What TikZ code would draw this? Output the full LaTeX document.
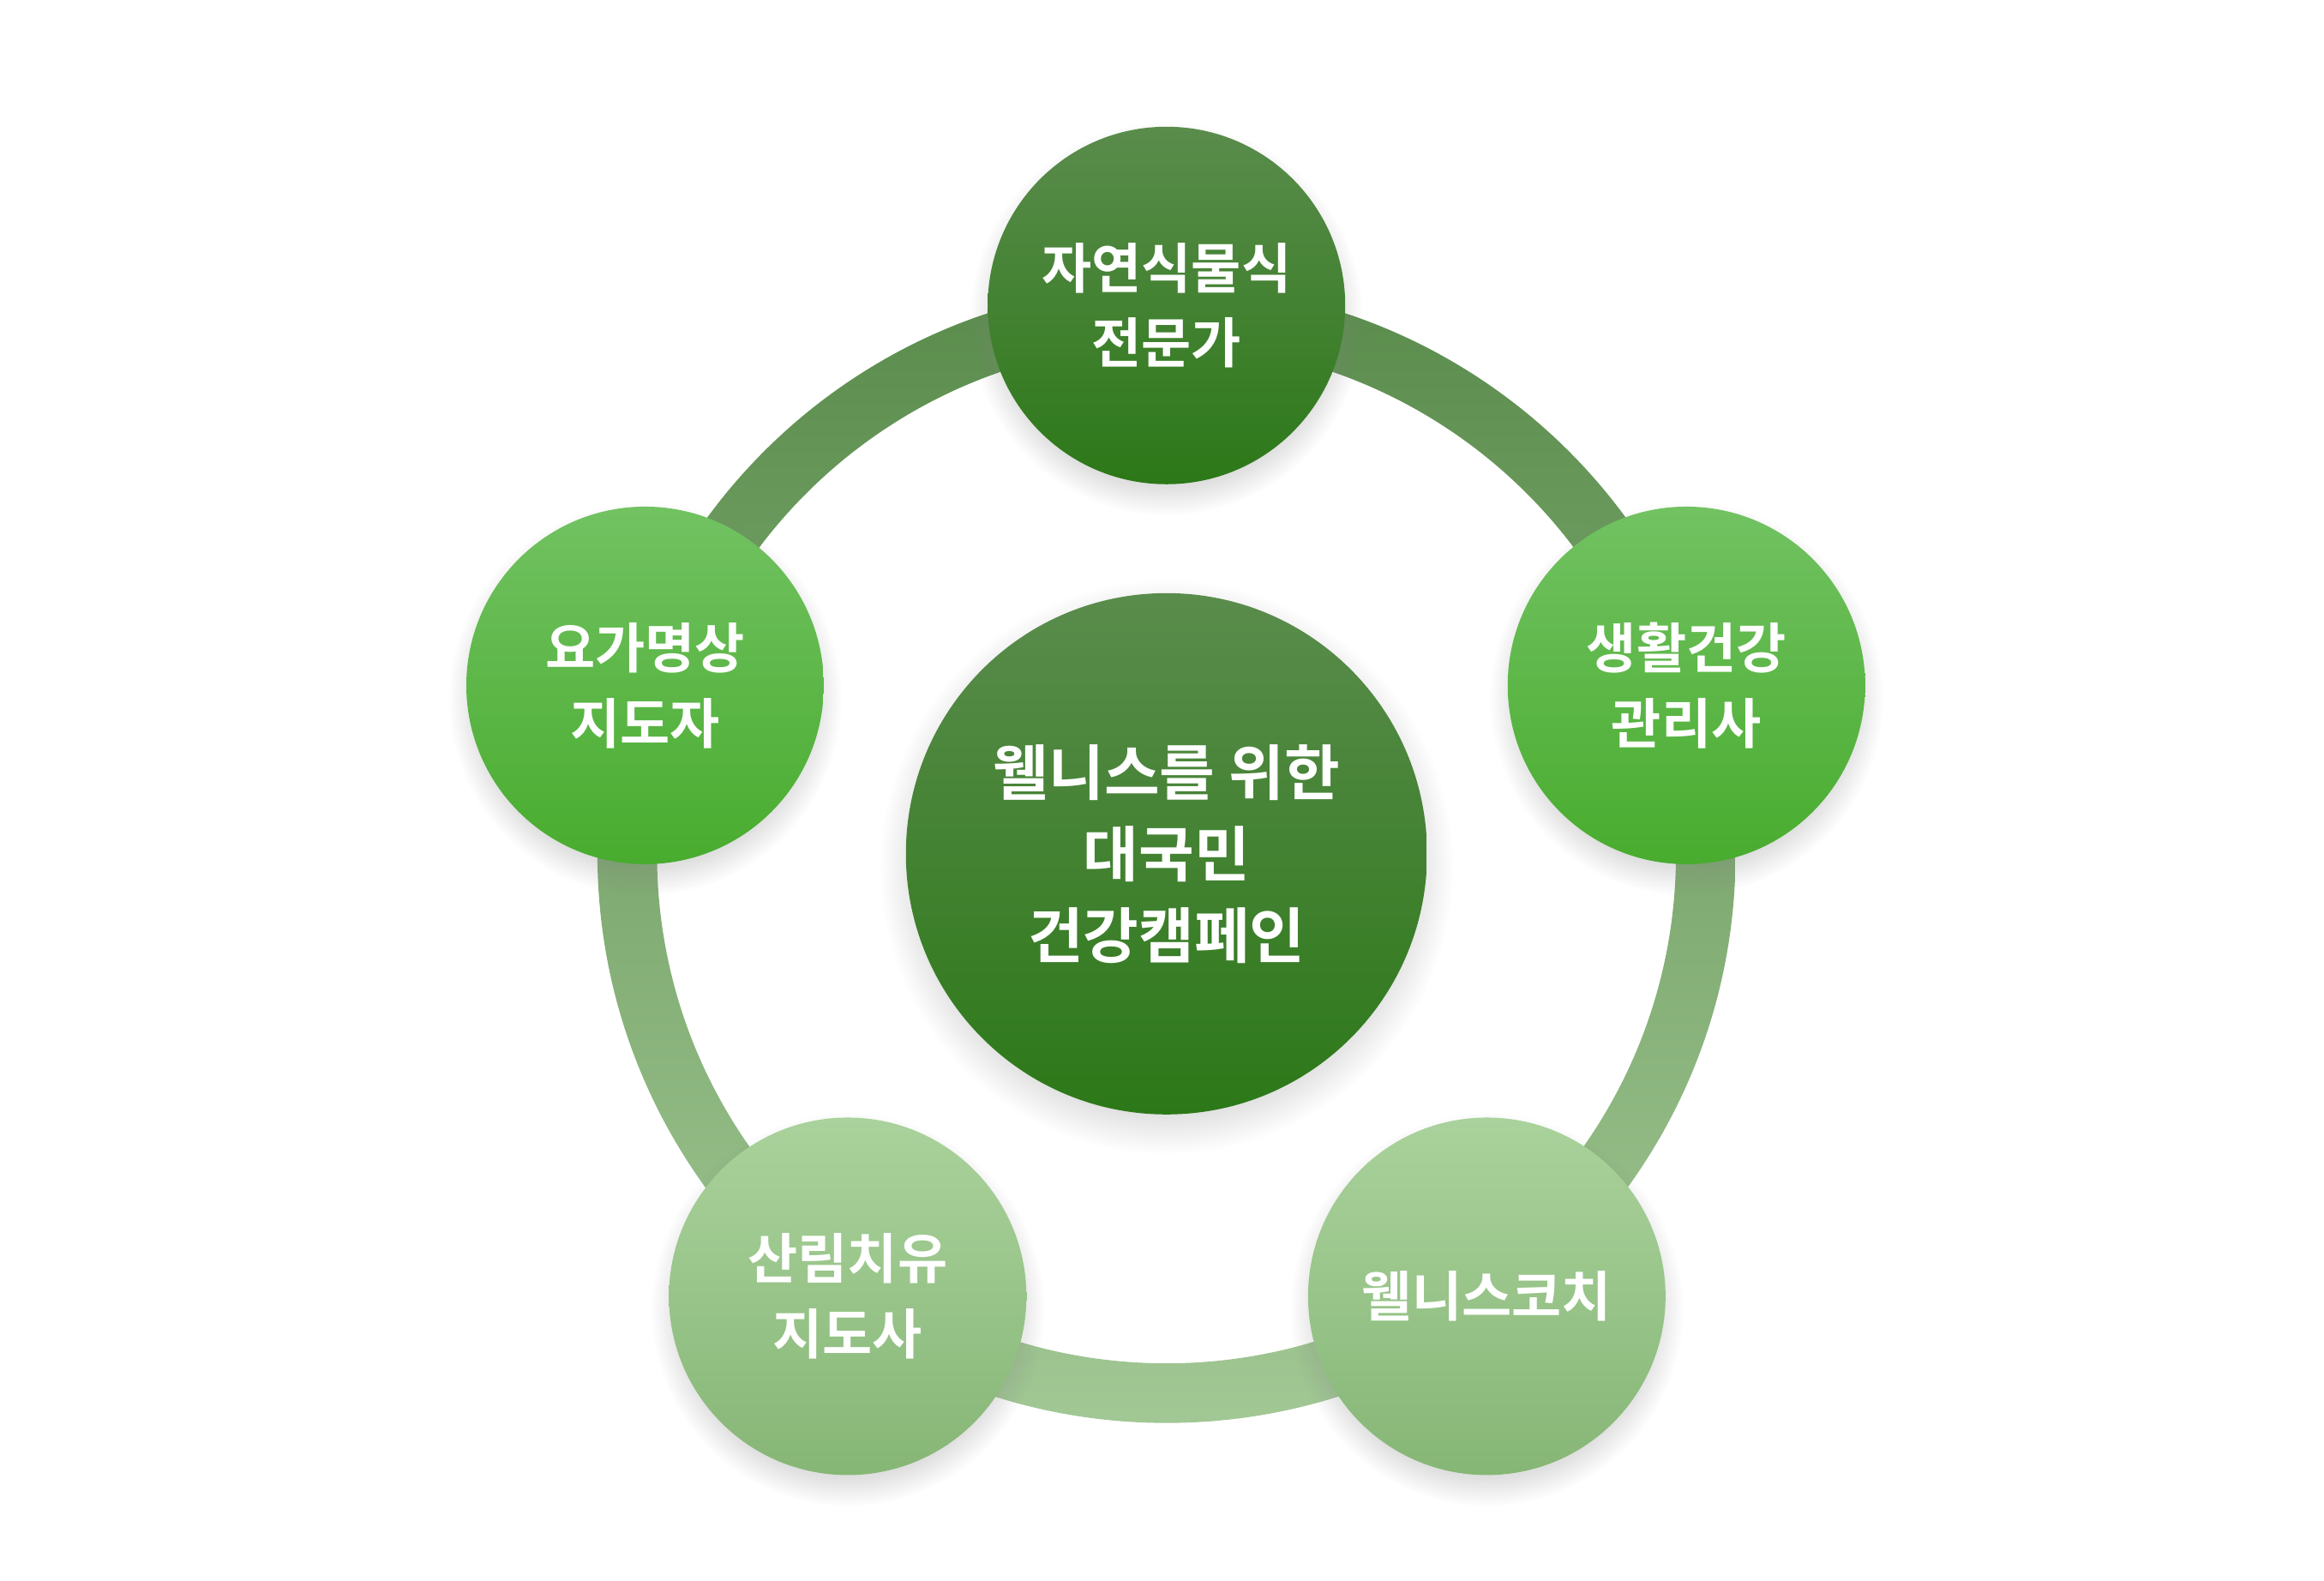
\documentclass[tikz,border=0pt]{standalone}
\usepackage{fontspec}
\newfontfamily\kr{Noto Sans CJK KR Bold}
\usetikzlibrary{shadows}
\definecolor{darktop}{HTML}{5A8C4C}
\definecolor{darkbot}{HTML}{2C7818}
\definecolor{midtop}{HTML}{72C262}
\definecolor{midbot}{HTML}{48AC2E}
\definecolor{lighttop}{HTML}{AAD29C}
\definecolor{lightbot}{HTML}{86B676}
\tikzset{
  bubble/.style={circle, minimum size=4.17cm, inner sep=0pt, align=center,
    text=white, font=\kr\fontsize{18}{25}\selectfont,
    circular drop shadow={shadow xshift=0pt, shadow yshift=-4pt, opacity=.25}},
  darkbub/.style={bubble, top color=darktop, bottom color=darkbot},
  midbub/.style={bubble, top color=midtop, bottom color=midbot},
  lightbub/.style={bubble, top color=lighttop, bottom color=lightbot}
}
\begin{document}
\begin{tikzpicture}[x=0.01738cm, y=-0.01738cm]
        \useasboundingbox (0,0) rectangle (1560,1061);

        % the ring
        \shade[top color=darktop, bottom color=lighttop!95!black, even odd rule]
          (783,573) circle[radius=382] (783,573) circle[radius=342];

        % the centre
        \node[darkbub, minimum size=6.08cm, font=\kr\fontsize{20}{27}\selectfont] (center) at (783,573)
          {웰니스를 위한\\대국민\\건강캠페인};

        % the bubbles on the ring
        \node[darkbub] (expert) at (783,205) {자연식물식\\전문가};
        \node[midbub] (yoga) at (433,460) {요가명상\\지도자};
        \node[midbub] (manager) at (1132,460) {생활건강\\관리사};
        \node[lightbub] (forest) at (569,870) {산림치유\\지도사};
        \node[lightbub] (coach) at (998,870) {웰니스코치};
\end{tikzpicture}
\end{document}
